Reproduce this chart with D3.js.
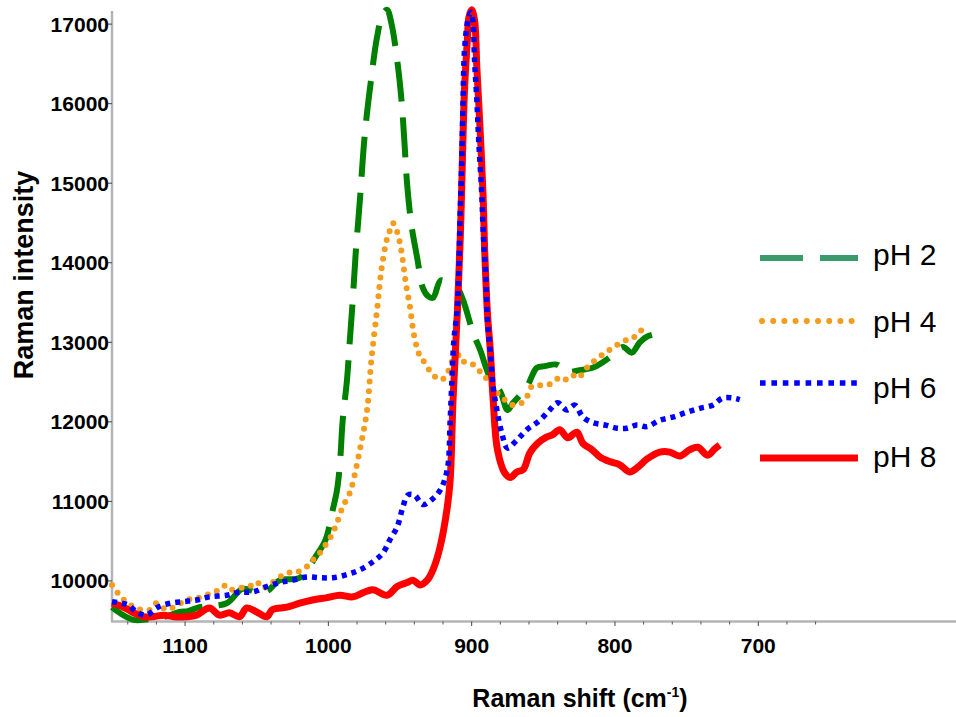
<!DOCTYPE html>
<html>
<head>
<meta charset="utf-8">
<script src="https://cdn.jsdelivr.net/npm/d3@7"></script>
<style>
  html, body { margin: 0; padding: 0; background: #ffffff; }
  svg { display: block; }
  text { font-family: "Liberation Sans", Arial, sans-serif; }
</style>
</head>
<body>
<svg id="chart" width="956" height="717"></svg>
<script>
// ---------------- data ----------------
const seriesNames = ["pH 2", "pH 4", "pH 6", "pH 8"];

const shift_pH2 = [1151,1145,1136,1125,1112,1104,1098,1090,1071,1060,1050,1043,1034,1020,1008,1002,997,994,992,990,987,985,983,981,978,974.5,970,966,962,959,956,952,949,947,945,942,938,934,930.5,927,921.5,915,910,906,899,894,887,880,875,871,861.5,854.5,849,840.6,833.6,824.5,815.5,808.5,801.5,794.5,788.3,782.7,777.8,767.3];
const int_pH2 = [9670,9590,9510,9520,9560,9610,9620,9670,9720,9900,9860,9870,10010,10040,10330,10515,10890,11140,11460,12020,12530,13030,13530,14100,14790,15630,16330,16840,17130,17180,17010,16550,16050,15540,14980,14470,14060,13680,13580,13560,13780,13720,13680,13530,13120,12900,12550,12380,12150,12240,12440,12680,12700,12720,12630,12650,12680,12750,12840,12940,12870,13000,13070,13120];

const shift_pH4 = [1151,1147,1140,1131,1124,1120,1113,1106,1099,1090,1080,1076,1072,1069,1062,1055,1050,1046,1039,1029,1022,1015,1011,1006,1001,997,994,990,985,983,978,973,970,966,963,959,957,955,952,949,946,943,940,936,933,927,921,917,913,908,905,899,894,889,882,875,871,865,861.5,859,854.5,847.5,843,838.5,835,830,826,819.6,815.5,810.6,805.7,801.5,796.6,791.7,787.6,784,779];
const int_pH4 = [9950,9850,9720,9640,9640,9720,9640,9690,9760,9790,9860,9890,9940,9890,9910,9930,9990,9910,9980,10100,10110,10180,10260,10350,10480,10600,10730,10930,11110,11230,11650,12150,12780,13410,13910,14310,14410,14500,14390,14140,13750,13440,13070,12820,12750,12590,12530,12610,12780,12840,12750,12720,12630,12530,12360,12250,12210,12240,12310,12430,12460,12460,12500,12560,12530,12590,12550,12680,12750,12820,12880,12930,12990,13030,13050,13120,13180];

const shift_pH6 = [1151,1145,1140,1133,1127,1119,1110,1101,1092,1083,1071,1062,1053,1043,1034,1025,1015,1006,997,987,978,969,962,957,952,948,944.5,940,934,928,922,917,915,914,912.4,910,908,907,906,905,902.6,900.5,899,898,896.4,895,893,892,890,889,887,885,882.4,879,875,868.5,861.5,852.4,845.5,840,833.6,828,822.4,815.5,807,798.7,791.7,784.8,777.8,768.7,759.7,749.9,740.8,731.8,724.8,717.8,712.9];
const int_pH6 = [9740,9720,9700,9600,9570,9670,9720,9740,9760,9800,9820,9860,9860,9930,9980,10010,10050,10040,10040,10080,10140,10240,10350,10520,10680,10930,11080,11080,10960,11020,11140,11400,12020,12440,13030,13440,14630,15230,16050,16670,17050,17150,17010,16550,16050,15510,14880,14410,13780,13280,12880,12440,12150,11860,11670,11770,11900,12020,12150,12240,12150,12210,12060,11990,11960,11920,11920,11960,11940,12020,12060,12120,12170,12210,12300,12300,12280];

const shift_pH8 = [1151,1143,1136,1129,1122,1115,1108,1099,1092,1083,1076,1069,1062,1057,1050,1043,1039,1029,1020,1011,1001,992,983,976,969,959,952,945,941,936,931,927,922,917,915,913,910,908,907,905,903,902,900,898,896.4,894,892,891,889,887,885,882,877,873,868.5,864,859.4,854,847.5,843.4,838.5,833,826.6,822.4,816,810.6,803.6,796.6,789.7,784,777.8,768.7,761.8,754.8,747.8,742.2,735.3,730.4,726.9];
const int_pH8 = [9720,9670,9600,9550,9550,9570,9550,9550,9570,9660,9570,9600,9550,9660,9610,9550,9640,9670,9720,9760,9790,9820,9800,9850,9890,9820,9930,9980,10010,9950,10010,10140,10430,10930,11270,12280,13370,14290,14910,16170,16800,17080,17180,17050,16460,15630,14830,14200,13370,12900,12280,11650,11360,11300,11370,11400,11610,11730,11810,11840,11900,11800,11870,11730,11650,11560,11500,11460,11370,11430,11530,11620,11620,11570,11650,11680,11580,11660,11710];

const yTicks = [10000, 11000, 12000, 13000, 14000, 15000, 16000, 17000];
const xTicks = [1100, 1000, 900, 800, 700];
const xMinorTicks = [1140,1120,1080,1060,1040,1020,980,960,940,920,880,860,840,820,780,760,740,720,680,660];

const xTitle = "Raman shift (cm";
const xTitleSup = "-1";
const yTitle = "Raman intensity";

// ---------------- layout ----------------
const svg = d3.select("#chart");
const W = 956, H = 717;
const plotLeft = 112, plotRight = 956, plotTop = 11, plotBottom = 621.5;

const x = d3.scaleLinear().domain([1151, 562]).range([plotLeft, plotRight]);
const y = d3.scaleLinear().domain([9490, 17165]).range([plotBottom, plotTop]);

svg.append("rect").attr("width", W).attr("height", H).attr("fill", "#ffffff");

// axes
const axisG = svg.append("g");
axisG.append("line")
  .attr("x1", plotLeft).attr("x2", plotLeft)
  .attr("y1", plotTop).attr("y2", plotBottom)
  .attr("stroke", "#b4b4b4").attr("stroke-width", 2.5);
axisG.append("line")
  .attr("x1", plotLeft - 1).attr("x2", plotRight)
  .attr("y1", plotBottom).attr("y2", plotBottom)
  .attr("stroke", "#b4b4b4").attr("stroke-width", 2.5);

// y ticks
axisG.selectAll(".ytick").data(yTicks).enter().append("line")
  .attr("x1", plotLeft - 4).attr("x2", plotLeft)
  .attr("y1", d => y(d)).attr("y2", d => y(d))
  .attr("stroke", "#444").attr("stroke-width", 1);
axisG.selectAll(".ylab").data(yTicks).enter().append("text")
  .attr("x", plotLeft - 3).attr("y", d => y(d))
  .attr("dy", "0.36em")
  .attr("text-anchor", "end")
  .attr("font-size", 21).attr("font-weight", "bold").attr("fill", "#000")
  .text(d => d3.format("d")(d));

// x ticks
axisG.selectAll(".xtick").data(xTicks).enter().append("line")
  .attr("x1", d => x(d)).attr("x2", d => x(d))
  .attr("y1", plotBottom).attr("y2", plotBottom + 4.5)
  .attr("stroke", "#444").attr("stroke-width", 1);
axisG.selectAll(".xmtick").data(xMinorTicks).enter().append("line")
  .attr("x1", d => x(d)).attr("x2", d => x(d))
  .attr("y1", plotBottom).attr("y2", plotBottom + 3)
  .attr("stroke", "#555").attr("stroke-width", 1);
axisG.selectAll(".xlab").data(xTicks).enter().append("text")
  .attr("x", d => x(d)).attr("y", 653)
  .attr("text-anchor", "middle")
  .attr("font-size", 21).attr("font-weight", "bold").attr("fill", "#000")
  .text(d => d);

// titles
const xt = svg.append("text")
  .attr("x", 580).attr("y", 707)
  .attr("text-anchor", "middle")
  .attr("font-size", 25).attr("font-weight", "bold").attr("fill", "#000");
xt.append("tspan").text(xTitle);
xt.append("tspan").attr("font-size", 14).attr("dy", -10).text(xTitleSup);
xt.append("tspan").attr("dy", 10).text(")");

svg.append("text")
  .attr("transform", "translate(33,275) rotate(-90)")
  .attr("text-anchor", "middle")
  .attr("font-size", 27).attr("font-weight", "bold").attr("fill", "#000")
  .text(yTitle);

// ---------------- series ----------------
const series = [
  { name: seriesNames[0], sx: shift_pH2, sy: int_pH2, color: "#008000", legendColor: "#3a9b6a", width: 6, dash: "40,16", legendDash: "43,17", cap: "butt" },
  { name: seriesNames[1], sx: shift_pH4, sy: int_pH4, color: "#f39c1e", legendColor: "#f39c1e", width: 6, dash: "0,9.5", legendDash: "0,11.2", cap: "round" },
  { name: seriesNames[2], sx: shift_pH6, sy: int_pH6, color: "#0000ff", legendColor: "#0000ff", width: 5.5, dash: "5,5", legendDash: "5.6,5.8", cap: "butt" },
  { name: seriesNames[3], sx: shift_pH8, sy: int_pH8, color: "#ff0000", legendColor: "#ff0000", width: 7, dash: null, legendDash: null, cap: "butt" }
];

const line = d3.line()
  .x(d => x(d[0]))
  .y(d => y(d[1]))
  .curve(d3.curveCatmullRom.alpha(0.5));

const drawOrder = [0, 1, 3, 2];
const linesG = svg.append("g");
drawOrder.forEach(i => {
  const s = series[i];
  const pts = s.sx.map((v, k) => [v, s.sy[k]]);
  linesG.append("path")
    .datum(pts)
    .attr("d", line)
    .attr("fill", "none")
    .attr("stroke", s.color)
    .attr("stroke-width", s.width)
    .attr("stroke-linecap", s.cap)
    .attr("stroke-linejoin", "round")
    .attr("stroke-dasharray", s.dash);
});

// ---------------- legend ----------------
const legendY = [258, 321, 383, 458];
const legendTextY = [265, 332, 398, 467];
const legendG = svg.append("g");
series.forEach((s, i) => {
  const x1 = s.cap === "round" ? 762 : 760, x2 = s.cap === "round" ? 852 : 858;
  legendG.append("line")
    .attr("x1", x1).attr("x2", x2)
    .attr("y1", legendY[i]).attr("y2", legendY[i])
    .attr("stroke", s.legendColor)
    .attr("stroke-width", s.width)
    .attr("stroke-linecap", s.cap)
    .attr("stroke-dasharray", s.legendDash);
  legendG.append("text")
    .attr("x", 873).attr("y", legendTextY[i])
    .attr("font-size", 30).attr("fill", "#000")
    .text(s.name);
});
</script>
</body>
</html>
